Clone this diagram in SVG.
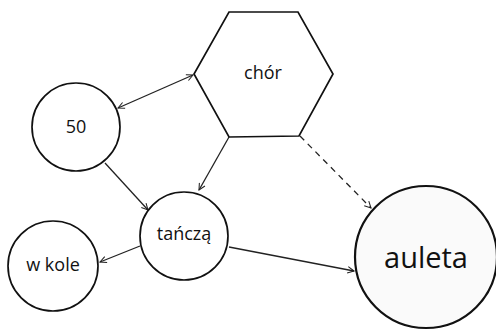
<svg xmlns="http://www.w3.org/2000/svg" width="496" height="335" viewBox="0 0 496 335">
<defs>
<marker id="arr" viewBox="0 0 10 10" refX="9" refY="5" markerWidth="8" markerHeight="8" orient="auto-start-reverse" markerUnits="userSpaceOnUse">
<path d="M1,1 L9,5 L1,9" fill="none" stroke="#222" stroke-width="1.3"/>
</marker>
<style>
.n{fill:#fff;stroke:#111;stroke-width:1.7}
.t{font-family:"Open Sans","DejaVu Sans",sans-serif;fill:#111;text-anchor:middle;dominant-baseline:central}
.e{stroke:#222;stroke-width:1.3;fill:none;marker-end:url(#arr)}
</style>
</defs>
<rect width="496" height="335" fill="#fff"/>
<g id="edges">
<path class="e" d="M118,108 L193,75" style="marker-start:url(#arr)"/>
<path class="e" d="M229,137 L199,190"/>
<path class="e" d="M105,163 L148,210"/>
<path class="e" d="M300,136 L371,208" stroke-dasharray="6,5"/>
<path class="e" d="M140,246 L100,262"/>
<path class="e" d="M229,247 L354,271"/>
</g>
<g id="chor">
<polygon class="n" points="229,12 298,12 333,74 299,136 229,137 194,74"/>
<text class="t" x="263" y="72" font-size="18">chór</text>
</g>
<g id="n50">
<circle class="n" cx="76" cy="127" r="44"/>
<text class="t" x="76" y="126" font-size="18">50</text>
</g>
<g id="tancza">
<circle class="n" cx="184" cy="236" r="44"/>
<text class="t" x="184" y="233" font-size="18">tańczą</text>
</g>
<g id="wkole">
<circle class="n" cx="53" cy="266" r="45"/>
<text class="t" x="53" y="264" font-size="18">w kole</text>
</g>
<g id="auleta">
<circle class="n" cx="426" cy="257" r="71" style="fill:#fafafa;stroke-width:2.2"/>
<text class="t" x="426" y="256" font-size="29">auleta</text>
</g>
</svg>
